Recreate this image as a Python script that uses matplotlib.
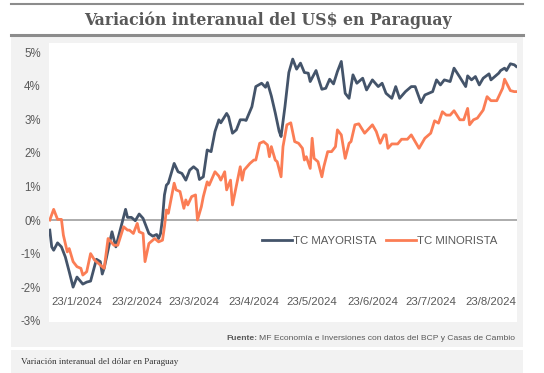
import pandas as pd
import matplotlib
matplotlib.use('Agg')
from matplotlib import pyplot as plt
from matplotlib.patches import Rectangle
from matplotlib.lines import Line2D

# datos (dias desde el 9/1/2024, variacion en %)
inicio = '2024-01-09'
dias_may = [0, 1, 2, 4, 6, 8, 10, 12, 14, 16, 17, 19, 21, 24, 26, 27, 28, 32, 34, 36,
            39, 40, 42, 44, 46, 48, 51, 53, 55, 56, 57, 58, 59, 60, 61, 64, 66, 68, 70, 72,
            74, 76, 77, 79, 81, 83, 85, 87, 88, 91, 92, 94, 96, 98, 100, 101, 104, 106, 109, 111,
            112, 114, 116, 118, 119, 121, 123, 125, 127, 129, 131, 133, 134, 137, 139, 140, 142, 144, 146, 148,
            150, 152, 154, 156, 158, 161, 163, 166, 169, 171, 173, 176, 178, 180, 183, 186, 188, 191, 193, 197,
            199, 201, 203, 206, 208, 211, 214, 215, 217, 219, 221, 223, 226, 227, 231, 232, 234, 235, 237, 239,
            240]
mayorista = [-0.30, -0.80, -0.90, -0.68, -0.80, -1.10, -1.54, -2.00, -1.70, -1.84, -1.91, -1.85, -1.82, -1.17, -1.24, -1.61, -1.43, -0.35, -0.80, -0.35,
             0.32, 0.08, 0.08, -0.02, 0.18, 0.05, -0.40, -0.48, -0.43, -0.55, -0.40, 0.05, 0.75, 1.04, 1.10, 1.69, 1.44, 1.39, 1.19, 1.49,
             1.59, 1.49, 1.21, 1.29, 2.09, 2.04, 2.64, 2.99, 2.90, 3.18, 3.08, 2.59, 2.69, 2.99, 2.99, 2.97, 3.38, 3.98, 4.08, 3.96,
             4.10, 3.70, 3.20, 2.65, 2.49, 3.38, 4.40, 4.80, 4.50, 4.68, 4.40, 4.38, 4.13, 4.46, 4.08, 3.90, 3.93, 4.20, 4.06, 4.43,
             4.73, 3.78, 3.63, 4.33, 4.08, 4.23, 3.88, 4.18, 3.98, 4.08, 3.78, 3.63, 3.98, 3.63, 3.83, 3.98, 3.98, 3.50, 3.73, 3.83,
             4.18, 4.03, 4.18, 4.13, 4.53, 4.26, 3.98, 4.30, 4.18, 4.28, 4.03, 4.23, 4.36, 4.18, 4.38, 4.46, 4.53, 4.46, 4.66, 4.63,
             4.58]

dias_min = [0, 2, 4, 6, 7, 9, 10, 12, 14, 16, 17, 19, 21, 23, 25, 28, 30, 33, 35, 38,
            40, 41, 43, 45, 46, 48, 49, 51, 52, 54, 56, 58, 59, 60, 61, 64, 65, 67, 69, 70,
            71, 73, 75, 76, 78, 79, 81, 82, 85, 87, 88, 90, 91, 93, 94, 98, 99, 100, 103, 105,
            106, 108, 110, 112, 113, 114, 116, 117, 119, 120, 122, 124, 126, 128, 130, 131, 132, 134, 135, 136,
            138, 140, 141, 143, 145, 147, 148, 150, 152, 154, 155, 157, 159, 162, 166, 168, 170, 172, 173, 174,
            176, 179, 181, 184, 186, 190, 193, 195, 196, 198, 200, 202, 204, 206, 208, 211, 213, 215, 216, 218,
            220, 223, 225, 227, 230, 233, 234, 237, 239, 240]
minorista = [0.00, 0.32, 0.02, 0.02, -0.45, -0.95, -0.85, -1.24, -1.39, -1.44, -1.64, -1.54, -1.00, -1.19, -1.29, -1.44, -0.55, -0.75, -0.75, -0.20,
             -0.30, -0.30, -0.40, -0.10, -0.35, -0.40, -1.24, -0.70, -0.65, -0.55, -0.65, -0.60, -0.20, 0.30, 0.20, 1.10, 0.90, 0.85, 0.35, 0.60,
             0.45, 0.70, 0.75, 0.00, 0.40, 0.70, 1.14, 1.04, 1.44, 1.31, 1.19, 1.44, 0.90, 1.19, 0.45, 1.59, 1.19, 1.49, 1.69, 1.79,
             1.79, 2.29, 2.34, 2.24, 1.89, 2.19, 1.79, 1.74, 1.29, 2.19, 2.84, 2.90, 2.34, 2.29, 2.14, 1.79, 1.89, 1.54, 2.44, 1.84,
             1.74, 1.29, 1.59, 2.04, 2.04, 2.19, 2.69, 2.54, 1.84, 2.29, 2.34, 2.84, 2.87, 2.59, 2.84, 2.64, 2.29, 2.54, 2.54, 2.14,
             2.27, 2.27, 2.41, 2.41, 2.54, 2.14, 2.44, 2.54, 2.59, 2.96, 2.89, 3.23, 3.13, 3.13, 3.26, 2.99, 2.99, 3.33, 2.84, 2.99,
             3.04, 3.28, 3.68, 3.56, 3.56, 3.93, 4.20, 3.86, 3.83, 3.83]

fechas_ticks = ['2024-01-23', '2024-02-23', '2024-03-23', '2024-04-23',
                '2024-05-23', '2024-06-23', '2024-07-23', '2024-08-23']
etiquetas_x = ['23/1/2024', '23/2/2024', '23/3/2024', '23/4/2024',
               '23/5/2024', '23/6/2024', '23/7/2024', '23/8/2024']
valores_y = [-3, -2, -1, 0, 1, 2, 3, 4, 5]

t0 = pd.Timestamp(inicio)
fechas_may = t0 + pd.to_timedelta(dias_may, unit='D')
fechas_min = t0 + pd.to_timedelta(dias_min, unit='D')

narrow = ['Liberation Sans Narrow', 'Liberation Sans', 'DejaVu Sans']
gris = '#595959'
azul = '#44546a'
naranja = '#fb7d55'

W, H = 544, 373
fig = plt.figure(figsize=(W / 100, H / 100), dpi=100)
fig.patch.set_facecolor('white')


def px_rect(x0, y0, x1, y1, color):
    fig.add_artist(Rectangle((x0 / W, 1 - y1 / H), (x1 - x0) / W, (y1 - y0) / H,
                             transform=fig.transFigure, facecolor=color, edgecolor='none', zorder=0))


def px_hline(y, x0, x1, color, lw):
    fig.add_artist(Line2D([x0 / W, x1 / W], [1 - y / H, 1 - y / H],
                          transform=fig.transFigure, color=color, lw=lw))


# marco del grafico
px_rect(11, 37, 523, 347, '#f2f2f2')
px_rect(11, 350, 523, 373, '#f2f2f2')
px_hline(4, 11, 523, '#8c8c8c', 1.5)
px_hline(35, 11, 523, '#8c8c8c', 2.2)

fig.text(268 / W, 1 - 20 / H, 'Variación interanual del US$ en Paraguay',
         ha='center', va='center', fontsize=11.3, fontweight='bold', color=gris,
         family=['DejaVu Serif Condensed', 'DejaVu Serif'])

ax = fig.add_axes([49 / W, 1 - 322 / H, (517 - 49) / W, (322 - 43) / H])
ax.set_facecolor('white')
for s in ax.spines.values():
    s.set_visible(False)

ax.plot(fechas_may, mayorista, color=azul, lw=2.0, label='TC MAYORISTA', zorder=3)
ax.plot(fechas_min, minorista, color=naranja, lw=2.0, label='TC MINORISTA', zorder=3)
ax.axhline(0, color='#a6a6a6', lw=1.3, zorder=2)

ax.set_ylim(-3.04, 5.28)
ax.set_xlim(t0 - pd.Timedelta(days=0.4), t0 + pd.Timedelta(days=240.4))
ax.set_yticks(valores_y)
ax.set_yticklabels([f'{v}%' for v in valores_y], family=narrow, fontsize=8.3, color=gris)
ax.set_xticks(pd.to_datetime(fechas_ticks))
ax.set_xticklabels(etiquetas_x, family=narrow, fontsize=8.2, color=gris)
ax.tick_params(axis='y', length=0, pad=6)
ax.tick_params(axis='x', length=0, pad=-18)

leg = ax.legend(loc='center left', bbox_to_anchor=(262 / W, 1 - 241 / H),
                bbox_transform=fig.transFigure, ncol=2, frameon=False,
                borderpad=0, borderaxespad=0, handlelength=2.6, handletextpad=0.15,
                columnspacing=0.8, prop={'family': 'Liberation Sans', 'size': 8.2})
for txt in leg.get_texts():
    txt.set_color(gris)

# fuente
r = fig.canvas.get_renderer()
resto = fig.text(515 / W, 1 - 339 / H,
                 'MF Economía e Inversiones con datos del BCP y Casas de Cambio',
                 ha='right', va='center', fontsize=6.1, color=gris, family=narrow)
bb = resto.get_window_extent(renderer=r)
fig.text(bb.x0 / W - 2 / W, 1 - 339 / H, 'Fuente:', ha='right', va='center',
         fontsize=6.1, color=gris, family=narrow, fontweight='bold')

fig.text(21 / W, 1 - 362 / H, 'Variación interanual del dólar en Paraguay',
         ha='left', va='center', fontsize=6.6, color='#333333', family='Liberation Serif')

fig.savefig('out.png', dpi=100)
